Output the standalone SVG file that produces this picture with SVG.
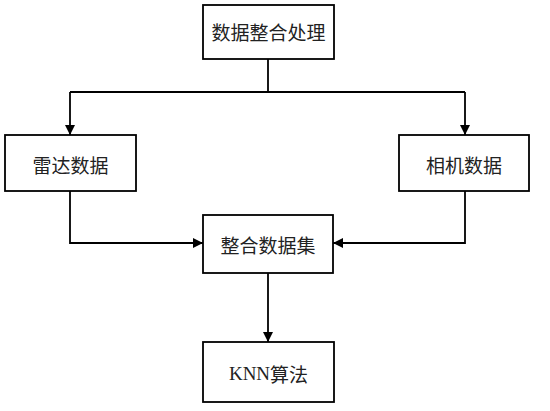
<svg xmlns="http://www.w3.org/2000/svg" width="550" height="411" viewBox="0 0 550 411">
<style>
.box{fill:#fff;stroke:#000;stroke-width:1.8}
.t{font-family:"Noto Sans CJK SC","Liberation Sans",sans-serif;font-size:19px;fill:#222;text-anchor:middle;dominant-baseline:central}
.k{font-family:"Liberation Serif","Noto Sans CJK SC",serif}
.c{fill:none;stroke:#000;stroke-width:1.8}
</style>
<defs>
<marker id="ah" viewBox="0 0 10 10" refX="10" refY="5" markerWidth="10" markerHeight="10" markerUnits="userSpaceOnUse" orient="auto">
<path d="M0,0 L10,5 L0,10 Z" fill="#000"/>
</marker>
</defs>
<rect width="550" height="411" fill="#fff"/>
<g id="connectors">
<path class="c" d="M268,59 V92"/>
<path class="c" d="M70,92 H465"/>
<path class="c" d="M70,92 V135" marker-end="url(#ah)"/>
<path class="c" d="M465,92 V135" marker-end="url(#ah)"/>
<path class="c" d="M70,191 V243 H203" marker-end="url(#ah)"/>
<path class="c" d="M465,191 V243 H333" marker-end="url(#ah)"/>
<path class="c" d="M268,273 V342" marker-end="url(#ah)"/>
</g>
<g id="n1"><rect class="box" x="203" y="5" width="131" height="54"/><text class="t" x="268.5" y="31">数据整合处理</text></g>
<g id="n2"><rect class="box" x="5" y="135" width="131" height="56"/><text class="t" x="70.5" y="164">雷达数据</text></g>
<g id="n3"><rect class="box" x="399" y="135" width="130" height="56"/><text class="t" x="464" y="164">相机数据</text></g>
<g id="n4"><rect class="box" x="203" y="215" width="130" height="58"/><text class="t" x="268" y="244">整合数据集</text></g>
<g id="n5"><rect class="box" x="203" y="342" width="131" height="60"/><text class="t" x="268.5" y="373"><tspan class="k">KNN</tspan>算法</text></g>
</svg>
